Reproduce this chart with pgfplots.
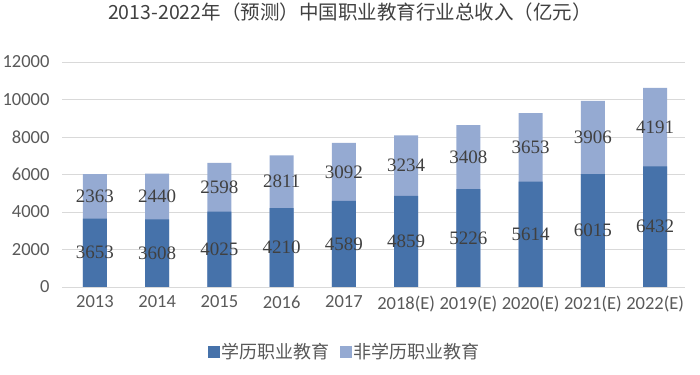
\documentclass[border=0pt]{standalone}
\usepackage{pgfplots}
\usepackage{pgfplotstable}
\pgfplotsset{compat=1.18}
\usepackage{fontspec}
\setmainfont{Carlito}
\newfontfamily\cjk{Noto Sans CJK SC}
\newfontfamily\serifnum{Liberation Serif}
\definecolor{darkb}{HTML}{4672AA}
\definecolor{lightb}{HTML}{95AAD2}
\definecolor{gridc}{HTML}{D9D9D9}
\definecolor{txt}{HTML}{595959}
\definecolor{lbl}{HTML}{404040}
\pgfplotstableread{
x a b
0 3653 2363
1 3608 2440
2 4025 2598
3 4210 2811
4 4589 3092
5 4859 3234
6 5226 3408
7 5614 3653
8 6015 3906
9 6432 4191
}\datatable
\begin{document}
\begin{tikzpicture}
\path[use as bounding box] (0,0) rectangle (700bp,375bp);
\begin{axis}[
  at={(62bp,88bp)}, anchor=south west,
  scale only axis, width=623bp, height=225bp,
  ybar, bar width=24bp, bar shift=0pt,
  xmin=-0.53, xmax=9.48,
  ymin=0, ymax=12000,
  ytick={0,2000,...,12000},
  xtick={0,...,9},
  xticklabels={2013,2014,2015,2016,2017,2018(E),2019(E),2020(E),2021(E),2022(E)},
  axis x line*=bottom, axis y line*=left,
  y axis line style={draw=none},
  x axis line style={draw=gridc, line width=0.8bp},
  ymajorgrids, grid style={draw=gridc, line width=0.8bp},
  major tick length=0pt,
  tick label style={font=\fontsize{18.5bp}{20bp}\selectfont, text=txt},
  yticklabel style={xshift=-9bp},
  xticklabel style={yshift=-5bp},
  /pgf/number format/assume math mode=true,
  /pgf/number format/1000 sep={},
  scaled y ticks=false,
  yticklabel={\pgfmathprintnumber[1000 sep={}]{\tick}},
  title={\cjk 2013-2022年（预测）中国职业教育行业总收入（亿元）},
  title style={at={(axis description cs:0.462,1.196)}, anchor=center, font=\fontsize{19.5bp}{22bp}\selectfont, text=lbl},
  legend style={at={(axis description cs:0.454,-0.289)}, anchor=center, draw=none, fill=none,
    legend columns=2, font=\cjk\fontsize{18bp}{20bp}\selectfont, text=txt,
    /tikz/every even column/.append style={column sep=8bp}},
  legend image code/.code={\fill[#1] (-4bp,-6bp) rectangle (8bp,6bp);},
]
% light (non-degree) drawn full height first, dark (degree) over it
\addplot[fill=lightb, draw=none, forget plot] table[x=x, y expr=\thisrow{a}+\thisrow{b}] {\datatable};
\addplot[fill=darkb, draw=none] table[x=x, y=a] {\datatable};
\addlegendentry{学历职业教育}
\addlegendimage{fill=lightb, draw=none}
\addlegendentry{非学历职业教育}
% value labels centred in each segment
\addplot[draw=none, fill=none, forget plot, point meta=explicit,
  nodes near coords={\pgfmathprintnumber[fixed,precision=0,1000 sep={},assume math mode=true]{\pgfplotspointmeta}},
  every node near coord/.append style={anchor=center, font=\serifnum\fontsize{19bp}{21bp}\selectfont, text=lbl}]
  table[x=x, y expr=\thisrow{a}/2, meta=a] {\datatable};
\addplot[draw=none, fill=none, forget plot, point meta=explicit,
  nodes near coords={\pgfmathprintnumber[fixed,precision=0,1000 sep={},assume math mode=true]{\pgfplotspointmeta}},
  every node near coord/.append style={anchor=center, font=\serifnum\fontsize{19bp}{21bp}\selectfont, text=lbl}]
  table[x=x, y expr=\thisrow{a}+\thisrow{b}/2, meta=b] {\datatable};
\end{axis}
\end{tikzpicture}
\end{document}
